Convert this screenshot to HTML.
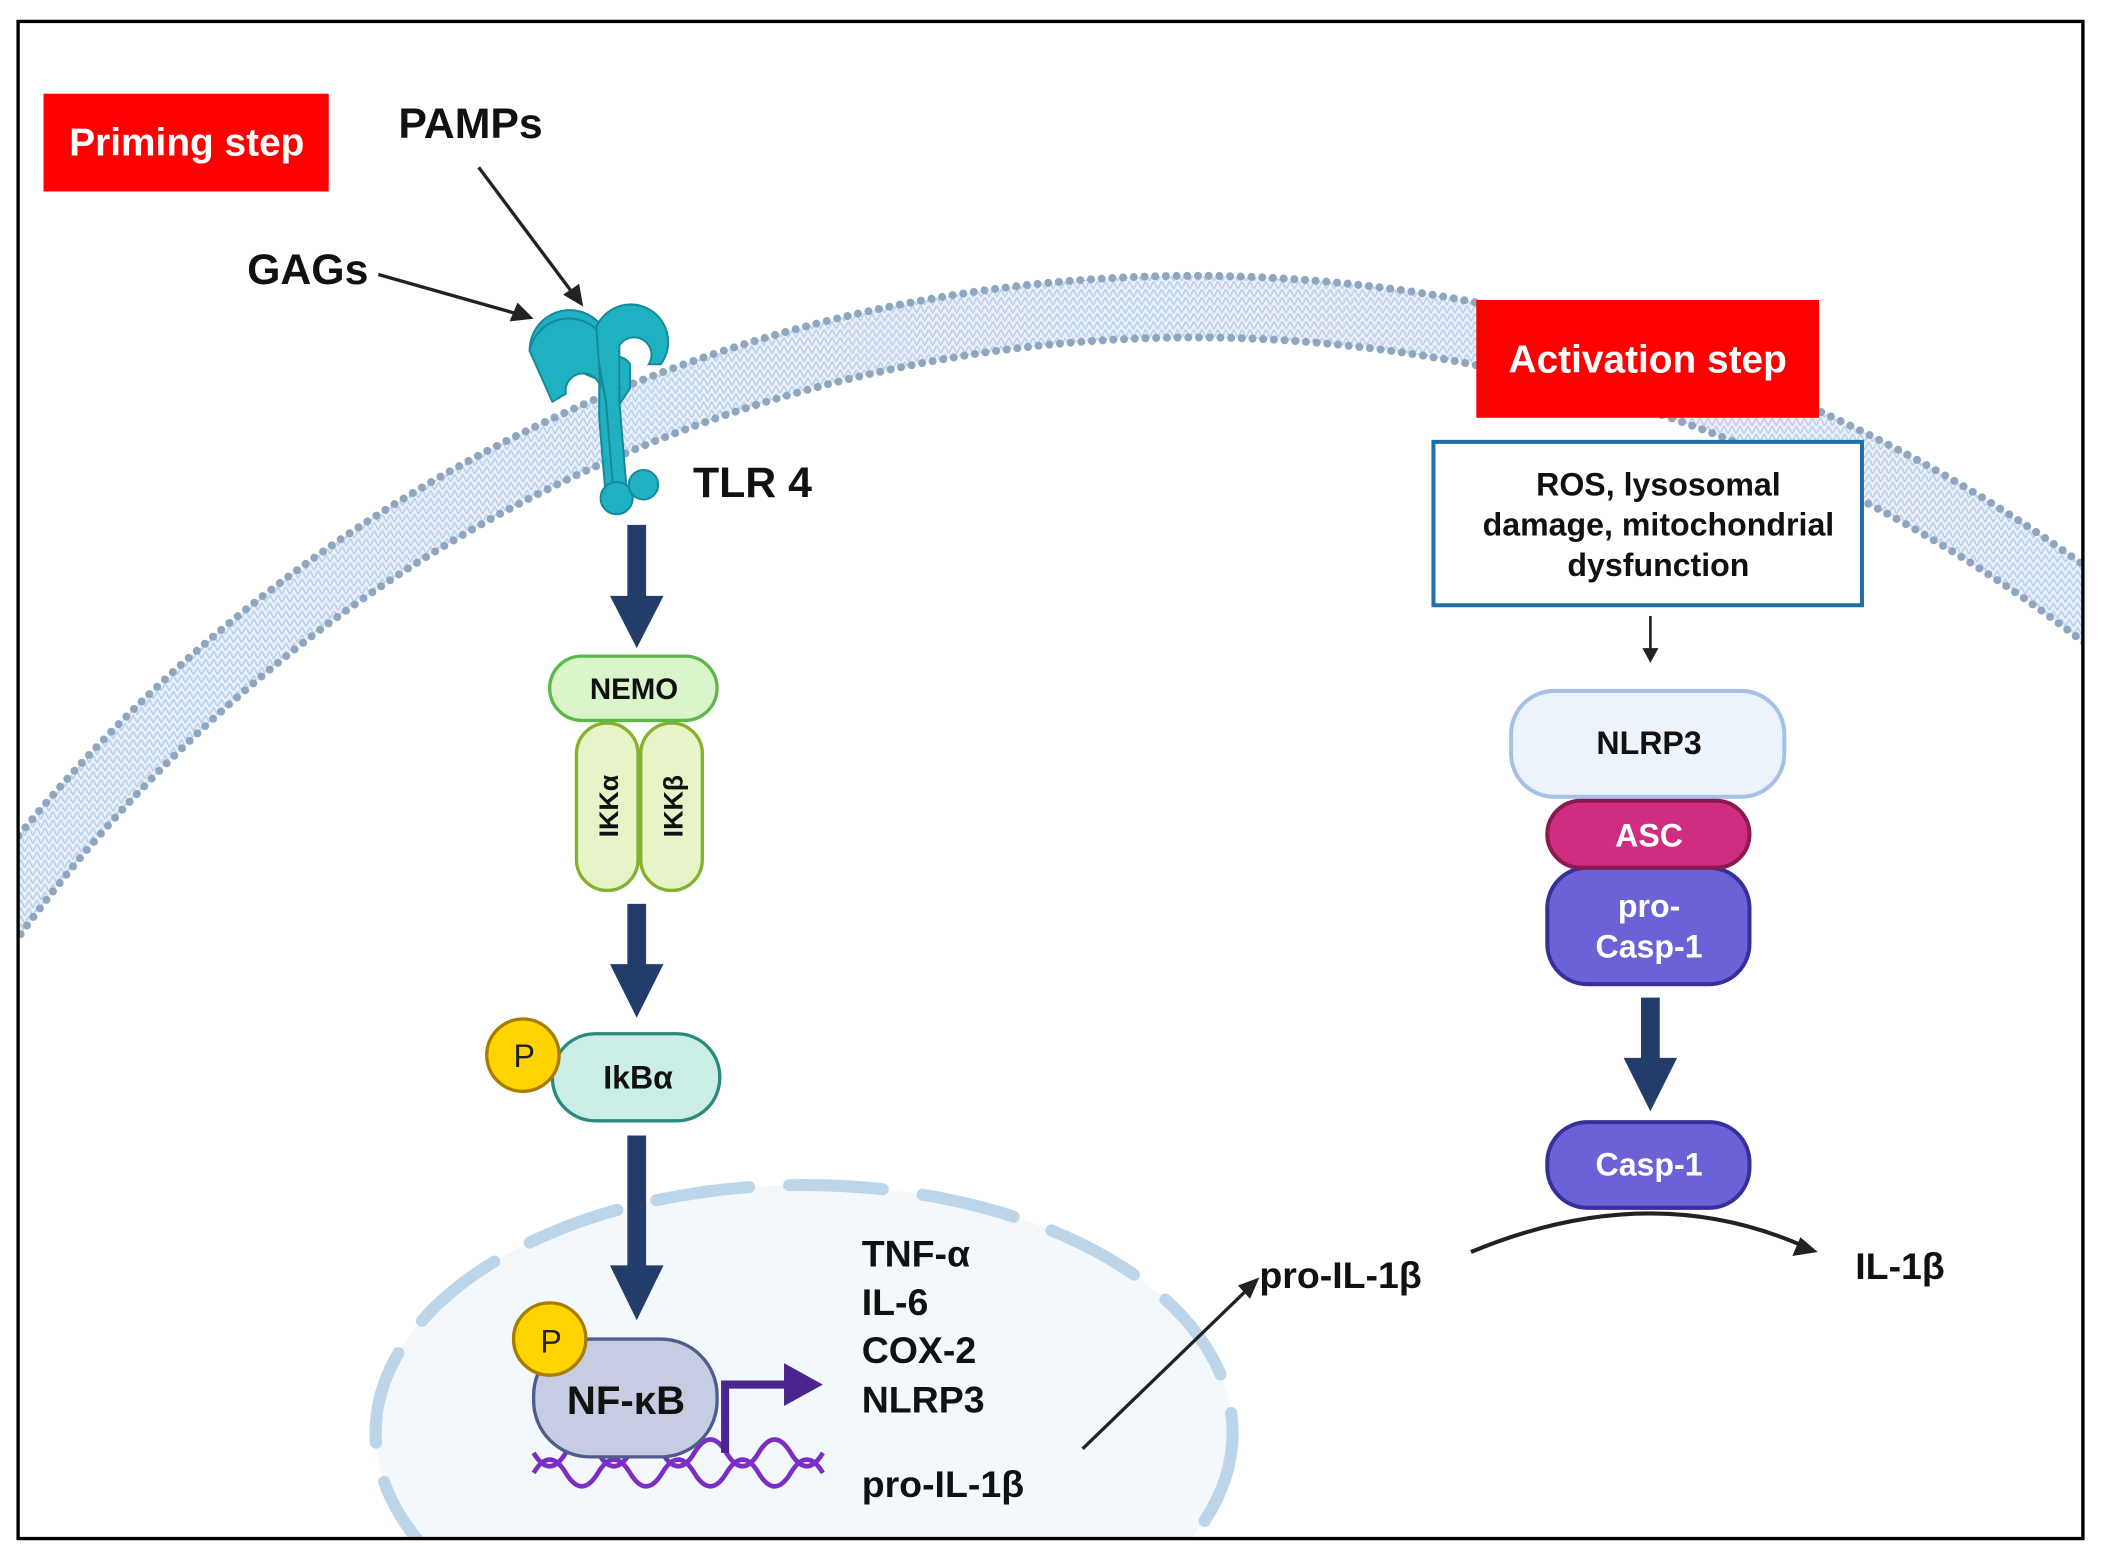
<!DOCTYPE html>
<html><head><meta charset="utf-8"><style>
html,body{margin:0;padding:0;background:#fff;width:2101px;height:1564px;overflow:hidden}
svg{display:block}
text{font-family:"Liberation Sans",sans-serif;font-weight:bold}
</style></head><body>
<svg width="2101" height="1564" viewBox="0 0 1568 1168" xmlns="http://www.w3.org/2000/svg">
<defs>
<clipPath id="fr"><rect x="13" y="16" width="1542" height="1133"/></clipPath>
<pattern id="lip" width="6" height="6" patternUnits="userSpaceOnUse"><rect width="6" height="6" fill="#eaf1fa"/><path d="M0 6L3 0L6 6" stroke="#bcd0ea" stroke-width="1.2" fill="none"/></pattern>
</defs>
<rect x="0" y="0" width="1568" height="1168" fill="#fff"/>
<g clip-path="url(#fr)">
<ellipse cx="600" cy="1070" rx="320" ry="185" fill="#f2f8fc"/>
<ellipse cx="600" cy="1070" rx="320" ry="185" fill="none" stroke="#bcd5e8" stroke-width="9" stroke-dasharray="70 30" stroke-linecap="round"/>
<circle cx="891" cy="1336" r="1107" fill="none" stroke="url(#lip)" stroke-width="46"/>
<circle cx="891" cy="1336" r="1130" fill="none" stroke="#8fa6c0" stroke-width="6" stroke-dasharray="0 8" stroke-linecap="round"/>
<circle cx="891" cy="1336" r="1084" fill="none" stroke="#8fa6c0" stroke-width="6" stroke-dasharray="0 8" stroke-linecap="round"/>
</g>
<rect x="13" y="16" width="1542" height="1133" fill="none" stroke="#000" stroke-width="2.5"/>

<rect x="32" y="70" width="213" height="73" fill="#fe0000"/>
<text x="139" y="116" font-size="29" fill="#fff" text-anchor="middle">Priming step</text>
<rect x="1102" y="224" width="256" height="88" fill="#fe0000"/>
<text x="1230" y="278" font-size="29" fill="#fff" text-anchor="middle">Activation step</text>
<text x="297" y="103" font-size="32" fill="#111">PAMPs</text>
<text x="184" y="212" font-size="32" fill="#111">GAGs</text>
<line x1="282" y1="205" x2="388" y2="235" stroke="#222" stroke-width="2.5"/>
<polygon points="398,238 380,240 386,226" fill="#222"/>
<line x1="357" y1="125" x2="428" y2="220" stroke="#222" stroke-width="2.5"/>
<polygon points="435,229 420,220 432,212" fill="#222"/>

<g fill="#1fb0c2" stroke="#158a99" stroke-width="1.5">
<path d="M395 262 a30 30 0 1 1 52 20 L447 312 L452 372 L464 372 L460 305 L470 290 L470 272 a12 12 0 1 0 -8 18 z"/>
<path d="M443 250 a28 28 0 1 1 50 22 L484 272 a10 10 0 1 0 -22 -14 L462 300 L468 372 L458 372 L452 300 z"/>
<path d="M395 262 a30 30 0 0 1 50 -16 L448 290 a13 13 0 1 0 -26 4 L412 300 z"/>
<circle cx="460" cy="372" r="12"/><circle cx="480" cy="362" r="11"/>
</g>
<text x="517" y="371" font-size="32" fill="#111">TLR 4</text>

<g fill="#233d6b">
<rect x="468" y="392" width="14" height="55"/><polygon points="455,445 495,445 475,484"/>
<rect x="468" y="675" width="14" height="47"/><polygon points="455,720 495,720 475,760"/>
<rect x="468" y="848" width="14" height="100"/><polygon points="455,945 495,945 475,986"/>
<rect x="1225" y="745" width="14" height="47"/><polygon points="1212,790 1252,790 1232,830"/>
</g>

<rect x="430" y="540" width="46" height="125" rx="23" fill="#e6f4c8" stroke="#85b12f" stroke-width="2.5"/>
<rect x="478" y="540" width="46" height="125" rx="23" fill="#e6f4c8" stroke="#85b12f" stroke-width="2.5"/>
<text font-size="20" fill="#111" text-anchor="middle" transform="translate(461,602) rotate(-90)">IKKα</text>
<text font-size="20" fill="#111" text-anchor="middle" transform="translate(509,602) rotate(-90)">IKKβ</text>
<rect x="410" y="490" width="125" height="48" rx="24" fill="#daf5c9" stroke="#5cb84a" stroke-width="2.5"/>
<text x="473" y="522" font-size="22" fill="#111" text-anchor="middle">NEMO</text>

<rect x="412" y="772" width="125" height="65" rx="32" fill="#cbeee6" stroke="#2b8a7c" stroke-width="2.5"/>
<text x="476" y="813" font-size="24" fill="#111" text-anchor="middle">IkBα</text>
<circle cx="390" cy="788" r="27" fill="#ffd400" stroke="#a87c00" stroke-width="2.5"/>
<text x="391" y="797" font-size="24" fill="#222" text-anchor="middle" style="font-weight:normal">P</text>

<g fill="none" stroke="#7a2ec4" stroke-width="3.5">
<path d="M398 1085 q12 20 24 0 t24 0 t24 0 t24 0 t24 0 t24 0 t24 0 t24 0 t24 0"/>
<path d="M398 1100 q12 -20 24 0 t24 0 t24 0 t24 0 t24 0 t24 0 t24 0 t24 0 t24 0"/>
</g>
<rect x="398" y="1000" width="137" height="88" rx="42" fill="#c6cde2" stroke="#4f5c8c" stroke-width="2.5"/>
<text x="467" y="1056" font-size="30" fill="#111" text-anchor="middle">NF-κB</text>
<circle cx="410" cy="1000" r="27" fill="#ffd400" stroke="#a87c00" stroke-width="2.5"/>
<text x="411" y="1010" font-size="24" fill="#222" text-anchor="middle" style="font-weight:normal">P</text>
<path d="M541 1085 V1034 H588" fill="none" stroke="#4a2590" stroke-width="6"/>
<polygon points="585,1018 614,1034 585,1050" fill="#4a2590"/>

<g font-size="28" fill="#111">
<text x="643" y="946">TNF-α</text>
<text x="643" y="982">IL-6</text>
<text x="643" y="1018">COX-2</text>
<text x="643" y="1055">NLRP3</text>
<text x="643" y="1118">pro-IL-1β</text>
<text x="940" y="962">pro-IL-1β</text>
<text x="1385" y="955">IL-1β</text>
</g>
<line x1="808" y1="1082" x2="932" y2="962" stroke="#222" stroke-width="2.5"/>
<polygon points="940,954 933,970 924,960" fill="#222"/>
<path d="M1098 935 Q1230 880 1345 930" fill="none" stroke="#222" stroke-width="3"/>
<polygon points="1357,935 1338,938 1344,924" fill="#222"/>

<rect x="1070" y="330" width="320" height="122" fill="#fff" stroke="#1f6fa8" stroke-width="3"/>
<g font-size="24" fill="#111" text-anchor="middle">
<text x="1238" y="370">ROS, lysosomal</text>
<text x="1238" y="400">damage, mitochondrial</text>
<text x="1238" y="430">dysfunction</text>
</g>
<line x1="1232" y1="460" x2="1232" y2="486" stroke="#222" stroke-width="2"/>
<polygon points="1226,484 1238,484 1232,495" fill="#222"/>
<rect x="1128" y="516" width="204" height="79" rx="32" fill="#edf3fb" stroke="#a6c1e6" stroke-width="3"/>
<text x="1231" y="563" font-size="24" fill="#111" text-anchor="middle">NLRP3</text>
<rect x="1155" y="648" width="151" height="87" rx="30" fill="#6a62d6" stroke="#38309a" stroke-width="3"/>
<text x="1231" y="685" font-size="24" fill="#fff" text-anchor="middle">pro-</text>
<text x="1231" y="715" font-size="24" fill="#fff" text-anchor="middle">Casp-1</text>
<rect x="1155" y="598" width="151" height="50" rx="25" fill="#d12d80" stroke="#8a1a50" stroke-width="3"/>
<text x="1231" y="632" font-size="24" fill="#fff" text-anchor="middle">ASC</text>
<rect x="1155" y="838" width="151" height="64" rx="30" fill="#6a62d6" stroke="#38309a" stroke-width="3"/>
<text x="1231" y="878" font-size="24" fill="#fff" text-anchor="middle">Casp-1</text>
</svg>
</body></html>
